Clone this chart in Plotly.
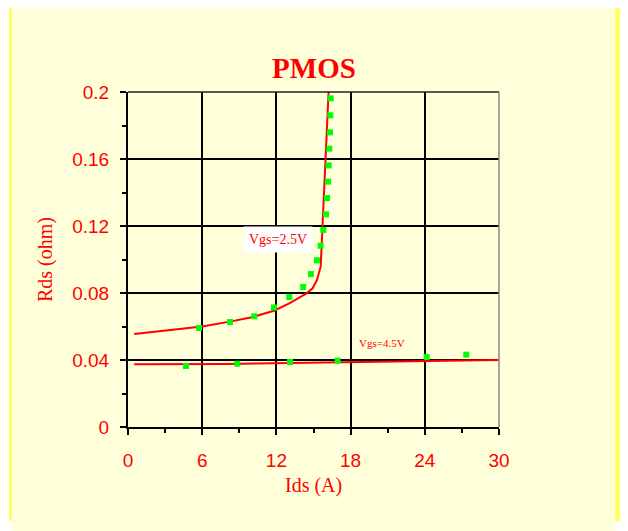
import plotly.graph_objects as go

# ---- data ----
vgs25_ids = [5.74, 8.25, 10.21, 11.80, 13.04, 14.17, 14.79, 15.28, 15.58, 15.79,
             16.01, 16.09, 16.17, 16.22, 16.28, 16.33, 16.36, 16.39]
vgs25_rds = [0.0591, 0.0627, 0.0661, 0.0714, 0.0776, 0.0836, 0.0913, 0.0995, 0.1082, 0.1176,
             0.1270, 0.1367, 0.1465, 0.1562, 0.1662, 0.1759, 0.1861, 0.1962]

vgs45_ids = [4.69, 8.84, 13.10, 16.95, 24.15, 27.35]
vgs45_rds = [0.0364, 0.0378, 0.0388, 0.0396, 0.0418, 0.0432]

fit25_ids = [0.5, 3, 6, 8.25, 10, 11.8, 13.04, 14.44, 14.93, 15.28, 15.58, 16.22]
fit25_rds = [0.0555, 0.0574, 0.0600, 0.0629, 0.0655, 0.0694, 0.0738, 0.0798, 0.0828, 0.0878, 0.0957, 0.2000]

fit45_ids = [0.5, 8, 16, 30]
fit45_rds = [0.0374, 0.0376, 0.0385, 0.0400]

x_ticks = [0, 6, 12, 18, 24, 30]
y_ticks = [0, 0.04, 0.08, 0.12, 0.16, 0.2]
y_tick_text = ["0", "0.04", "0.08", "0.12", "0.16", "0.2"]

title_text = "PMOS"
x_title = "Ids (A)"
y_title = "Rds (ohm)"
label25 = "Vgs=2.5V"
label45 = "Vgs=4.5V"

# ---- layout geometry (page has an 8px body margin) ----
OFF = 8
W, H = 628 - OFF, 531 - OFF
L, R, T, B = 128 - OFF, 499 - OFF, 92 - OFF, 427 - OFF   # plot-area box in figure px


def px_x(p):
    """screen x (reference) -> paper x"""
    return (p - OFF - L) / (R - L)


def px_y(p):
    """screen y (reference) -> paper y"""
    return (B - (p - OFF)) / (B - T)


RED = "#FF0000"
GREEN = "#00FF00"
PALE = "#FFFFDA"
STRIP = "#FFFF66"
SANS = "Liberation Sans, Arial, sans-serif"
SERIF = "Liberation Serif, Times New Roman, serif"

fig = go.Figure()
fig.add_trace(go.Scatter(x=fit45_ids, y=fit45_rds, mode="lines",
                         line=dict(color=RED, width=2), hoverinfo="skip"))
fig.add_trace(go.Scatter(x=fit25_ids, y=fit25_rds, mode="lines",
                         line=dict(color=RED, width=2), hoverinfo="skip"))
fig.add_trace(go.Scatter(x=vgs45_ids, y=vgs45_rds, mode="markers",
                         marker=dict(symbol="square", size=6, color=GREEN, line=dict(width=0))))
fig.add_trace(go.Scatter(x=vgs25_ids, y=vgs25_rds, mode="markers",
                         marker=dict(symbol="square", size=6, color=GREEN, line=dict(width=0))))

shapes = [
    dict(type="rect", xref="paper", yref="paper", layer="below",
         x0=px_x(12), x1=px_x(615), y0=px_y(535), y1=px_y(0),
         fillcolor=PALE, line=dict(width=0)),
    dict(type="rect", xref="paper", yref="paper", layer="below",
         x0=px_x(9), x1=px_x(12), y0=px_y(521), y1=px_y(0),
         fillcolor=STRIP, line=dict(width=0)),
    dict(type="rect", xref="paper", yref="paper", layer="below",
         x0=px_x(615), x1=px_x(624), y0=px_y(521), y1=px_y(0),
         fillcolor=STRIP, line=dict(width=0)),
    # top and right frame
    dict(type="line", xref="paper", yref="paper", x0=0, x1=1, y0=1, y1=1,
         line=dict(color="#222222", width=1.5)),
    dict(type="line", xref="paper", yref="paper", x0=1, x1=1, y0=0, y1=1,
         line=dict(color="#888888", width=1.5)),
]

annotations = [
    dict(text=label25, x=12.13, y=0.1122, xref="x", yref="y", showarrow=False,
         xanchor="center", yanchor="middle",
         font=dict(family=SERIF, size=14, color=RED), bgcolor="white", borderpad=5),
    dict(text=label45, x=20.57, y=0.0504, xref="x", yref="y", showarrow=False,
         xanchor="center", yanchor="middle",
         font=dict(family=SERIF, size=11, color=RED)),
    dict(text=x_title, x=px_x(313.5), y=px_y(485), xref="paper", yref="paper",
         xanchor="center", yanchor="middle",
         showarrow=False, font=dict(family=SERIF, size=20, color=RED)),
    dict(text=y_title, x=px_x(45), y=px_y(260), xref="paper", yref="paper",
         xanchor="center", yanchor="middle",
         showarrow=False, textangle=-90, font=dict(family=SERIF, size=20, color=RED)),
]

fig.update_layout(
    width=W, height=H,
    margin=dict(l=L, r=W - R, t=T, b=H - B, pad=0),
    paper_bgcolor="white", plot_bgcolor="white",
    showlegend=False,
    title=dict(text="<b>" + title_text + "</b>", x=(314 - OFF) / W, xref="container",
               y=1 - (68 - OFF) / H, yref="container", xanchor="center", yanchor="middle",
               font=dict(family=SERIF, size=29, color=RED)),
    shapes=shapes, annotations=annotations,
)

fig.update_xaxes(range=[0, 30], tickvals=x_ticks, ticktext=[str(v) for v in x_ticks],
                 showgrid=True, gridcolor="black", gridwidth=2,
                 showline=True, linecolor="black", linewidth=2, mirror=False,
                 zeroline=False, ticks="outside", ticklen=6, tickwidth=2, tickcolor="black",
                 ticklabelstandoff=9,
                 minor=dict(dtick=3, ticks="outside", ticklen=4, tickwidth=2, tickcolor="black",
                            showgrid=False),
                 tickfont=dict(family=SANS, size=19, color=RED))
fig.update_yaxes(range=[0, 0.2], tickvals=y_ticks, ticktext=y_tick_text,
                 showgrid=True, gridcolor="black", gridwidth=2,
                 showline=True, linecolor="black", linewidth=2, mirror=False,
                 zeroline=False, ticks="outside", ticklen=6, tickwidth=2, tickcolor="black",
                 ticklabelstandoff=7,
                 minor=dict(dtick=0.02, ticks="outside", ticklen=4, tickwidth=2, tickcolor="black",
                            showgrid=False),
                 tickfont=dict(family=SANS, size=19, color=RED))

fig.write_html("out.html")
